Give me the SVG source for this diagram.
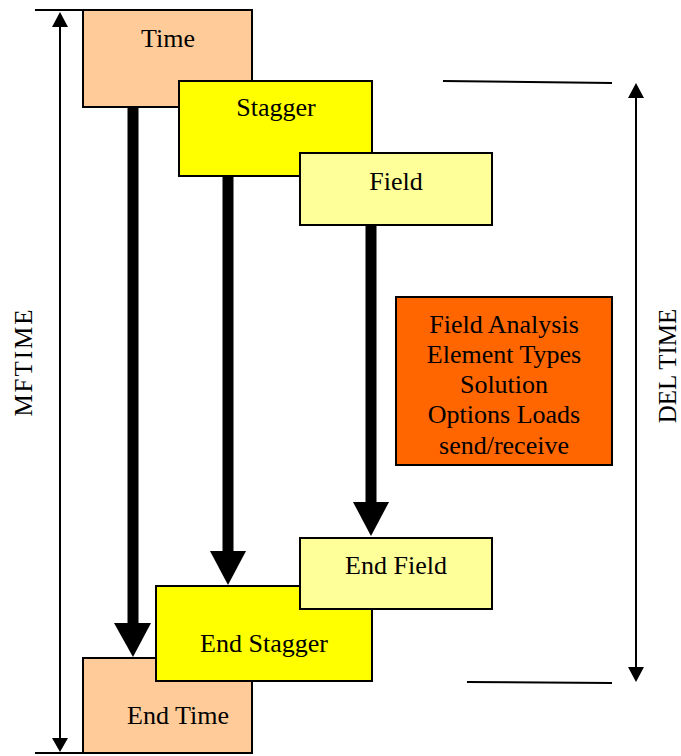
<svg xmlns="http://www.w3.org/2000/svg" width="681" height="756" viewBox="0 0 681 756">
  <style>
    .box { stroke: #000; stroke-width: 2; }
    .time { fill: #FFCC99; }
    .stagger { fill: #FFFF00; }
    .field { fill: #FFFF99; }
    .info { fill: #FF6600; }
    text { font-family: "Liberation Serif", "Times New Roman", serif; font-size: 26px; fill: #000; text-anchor: middle; }
    .side { font-size: 25px; }
    .thin { stroke: #000; stroke-width: 2; fill: none; }
    .thick { stroke: #000; stroke-width: 11; fill: none; }
    .head { fill: #000; }
  </style>

  <!-- dimension lines -->
  <g id="connectors">
    <!-- MFTIME span -->
    <line class="thin" x1="35" y1="10" x2="83" y2="10"/>
    <line class="thin" x1="35" y1="753" x2="83" y2="753"/>
    <line class="thin" x1="60" y1="25" x2="60" y2="740"/>
    <polygon class="head" points="60,12 52,27 68,27"/>
    <polygon class="head" points="60,752 52,738 68,738"/>
    <!-- DEL TIME span -->
    <line class="thin" x1="443" y1="81" x2="612" y2="83"/>
    <line class="thin" x1="467" y1="682" x2="612" y2="683"/>
    <line class="thin" x1="636" y1="96" x2="636" y2="669"/>
    <polygon class="head" points="636,83 628,98 644,98"/>
    <polygon class="head" points="636,682 628,667 644,667"/>
    <!-- flow arrows -->
    <line class="thick" x1="133" y1="107" x2="133" y2="625"/>
    <polygon class="head" points="114,623 151,623 133,657"/>
    <line class="thick" x1="228" y1="176" x2="228" y2="553"/>
    <polygon class="head" points="210,551 246,551 228,585"/>
    <line class="thick" x1="371" y1="225" x2="371" y2="504"/>
    <polygon class="head" points="353,502 389,502 371,536"/>
  </g>

  <g id="time">
    <rect class="box time" x="83" y="10" width="169" height="97"/>
    <text x="168" y="47">Time</text>
  </g>
  <g id="stagger">
    <rect class="box stagger" x="179" y="81" width="193" height="95"/>
    <text x="276" y="116">Stagger</text>
  </g>
  <g id="field">
    <rect class="box field" x="300" y="153" width="192" height="72"/>
    <text x="396" y="190">Field</text>
  </g>
  <g id="field-analysis">
    <rect class="box info" x="396" y="297" width="216" height="168"/>
    <text x="504" y="333">Field Analysis</text>
    <text x="504" y="363">Element Types</text>
    <text x="504" y="393">Solution</text>
    <text x="504" y="423">Options Loads</text>
    <text x="504" y="454">send/receive</text>
  </g>
  <g id="end-time">
    <rect class="box time" x="83" y="658" width="169" height="95"/>
    <text x="178" y="724">End Time</text>
  </g>
  <g id="end-stagger">
    <rect class="box stagger" x="156" y="586" width="216" height="95"/>
    <text x="264" y="652">End Stagger</text>
  </g>
  <g id="end-field">
    <rect class="box field" x="300" y="538" width="192" height="71"/>
    <text x="396" y="574">End Field</text>
  </g>

  <g id="labels">
    <text class="side" transform="translate(32,362) rotate(-90)" letter-spacing="2">MFTIME</text>
    <text class="side" transform="translate(676,366) rotate(-90)">DEL TIME</text>
  </g>
</svg>
